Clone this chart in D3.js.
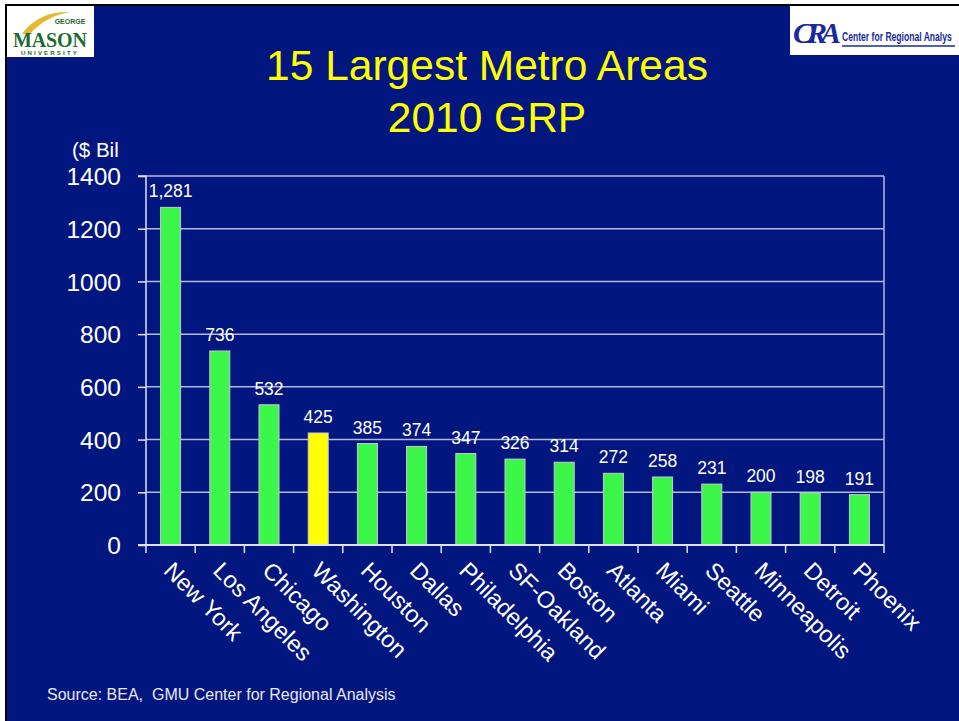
<!DOCTYPE html>
<html><head><meta charset="utf-8">
<script src="https://cdn.jsdelivr.net/npm/d3@7"></script>
<style>html,body{margin:0;padding:0;background:#fff;}svg{display:block;}</style>
</head><body>
<svg id="c" width="959" height="721"></svg>
<script>
const categories = ["New York","Los Angeles","Chicago","Washington","Houston","Dallas","Philadelphia","SF-Oakland","Boston","Atlanta","Miami","Seattle","Minneapolis","Detroit","Phoenix"];
const values = [1281,736,532,425,385,374,347,326,314,272,258,231,200,198,191];
const highlight = ["Washington"];
const yTicks = [0,200,400,600,800,1000,1200,1400];
const titleLines = ["15 Largest Metro Areas","2010 GRP"];

const svg = d3.select("#c");
const W = 959, H = 721;
const font = "Liberation Sans, Arial, sans-serif";
// background
svg.append("rect").attr("x",0).attr("y",0).attr("width",W).attr("height",H).attr("fill","#fff");
svg.append("rect").attr("x",5).attr("y",4).attr("width",W-5).attr("height",H-4).attr("fill","#000");
svg.append("rect").attr("x",7).attr("y",6).attr("width",W-7).attr("height",H-6).attr("fill","#021680");

// logos
svg.append("rect").attr("x",7).attr("y",6).attr("width",87).attr("height",51).attr("fill","#fff");
svg.append("path").attr("d","M22,34 C34,17 52,11 70,12 C54,15 40,22 30,34 Z").attr("fill","#e5b830");
svg.append("text").attr("x",70).attr("y",24).attr("text-anchor","middle").attr("font-family",font).attr("font-weight","bold").attr("font-size",7).attr("fill","#1d6b32").text("GEORGE");
svg.append("text").attr("x",50).attr("y",47).attr("text-anchor","middle").attr("font-family","Liberation Serif, serif").attr("font-weight","bold").attr("font-size",20).attr("textLength",74).attr("fill","#1d6b32").text("MASON");
svg.append("text").attr("x",50).attr("y",55).attr("text-anchor","middle").attr("font-family",font).attr("font-weight","bold").attr("font-size",6).attr("letter-spacing",2.2).attr("fill","#1d6b32").text("UNIVERSITY");
svg.append("rect").attr("x",790).attr("y",6).attr("width",169).attr("height",49).attr("fill","#fff");
svg.append("text").attr("x",793).attr("y",43).attr("font-family","Liberation Serif, serif").attr("font-weight","bold").attr("font-style","italic").attr("font-size",30).attr("textLength",48).attr("fill","#1a2a9c").text("CRA");
const cra = svg.append("text").attr("x",0).attr("y",0).attr("font-family","Liberation Sans Narrow, Arial Narrow, sans-serif").attr("font-weight","bold").attr("font-size",13).attr("fill","#1a2a9c").text("Center for Regional Analys");
const natW = cra.node().getComputedTextLength();
cra.attr("transform",`translate(842,41) scale(${110/natW},1)`);
svg.append("line").attr("x1",842).attr("x2",955).attr("y1",46).attr("y2",46).attr("stroke","#1a2a9c").attr("stroke-width",1.5);

// title
svg.selectAll("text.title").data(titleLines).enter().append("text")
  .attr("class","title").attr("x",487).attr("y",(d,i)=>80+i*52)
  .attr("text-anchor","middle").attr("font-family",font).attr("font-size",42.5)
  .attr("fill","#ffff00").text(d=>d);

// chart
const m = {l:146, r:884, t:176, b:545};
const xOuter = d3.scaleBand().domain(categories).range([m.l,m.r]);
const y = d3.scaleLinear().domain([0,1400]).range([m.b,m.t]);
const gridCol = "#b4b8dc";

svg.append("g").selectAll("line").data(yTicks.filter(d=>d>0)).enter().append("line")
  .attr("x1",m.l).attr("x2",m.r).attr("y1",d=>y(d)).attr("y2",d=>y(d))
  .attr("stroke",gridCol).attr("stroke-width",1.5);
svg.append("line").attr("x1",m.r).attr("x2",m.r).attr("y1",m.t).attr("y2",m.b).attr("stroke",gridCol).attr("stroke-width",1.5);

svg.append("g").selectAll("rect").data(categories).enter().append("rect")
  .attr("x",d=>xOuter(d)+xOuter.bandwidth()/2-10).attr("width",20)
  .attr("y",(d,i)=>y(values[i])).attr("height",(d,i)=>y(0)-y(values[i]))
  .attr("fill",d=>highlight.includes(d)?"#ffff00":"#3cf74a")
  .attr("stroke","#c8c8d8").attr("stroke-width",1);

// y axis
const yAxis = d3.axisLeft(y).tickValues(yTicks).tickSize(8).tickFormat(d3.format("d"));
const gy = svg.append("g").attr("transform",`translate(${m.l},0)`).call(yAxis);
gy.select(".domain").attr("stroke","#e0e0f0").attr("stroke-width",1.5).attr("d",`M-8,${m.t}H0V${m.b}`);
gy.selectAll(".tick line").attr("stroke","#e0e0f0").attr("stroke-width",1.5);
gy.selectAll(".tick text").attr("x",-25).attr("fill","#fff").attr("font-family",font).attr("font-size",24.5).attr("dy","0.35em");

// x axis
const gx = svg.append("g").attr("transform",`translate(0,${m.b})`);
gx.append("line").attr("x1",m.l-8).attr("x2",m.r).attr("stroke","#e0e0f0").attr("stroke-width",2);
gx.selectAll("line.tk").data(categories.concat(["_end"])).enter().append("line")
  .attr("x1",(d,i)=>m.l+i*xOuter.bandwidth()).attr("x2",(d,i)=>m.l+i*xOuter.bandwidth())
  .attr("y1",0).attr("y2",8).attr("stroke","#e0e0f0").attr("stroke-width",1.5);
gx.selectAll("text").data(categories).enter().append("text")
  .attr("transform",d=>`translate(${xOuter(d)+xOuter.bandwidth()/2-8},${27}) rotate(45)`)
  .attr("fill","#fff").attr("font-family",font).attr("font-size",23.5).text(d=>d);

// value labels
svg.append("g").selectAll("text").data(categories).enter().append("text")
  .attr("x",d=>xOuter(d)+xOuter.bandwidth()/2).attr("y",(d,i)=>y(values[i])-10)
  .attr("text-anchor","middle").attr("fill","#fff").attr("font-family",font).attr("font-size",17.5)
  .text((d,i)=>d3.format(",")(values[i]));

svg.append("text").attr("x",72).attr("y",157).attr("fill","#fff").attr("font-family",font).attr("font-size",20.5).text("($ Bil");
svg.append("text").attr("x",47).attr("y",700).attr("fill","#e8e8f0").attr("font-family",font).attr("font-size",16).style("white-space","pre").text("Source: BEA,  GMU Center for Regional Analysis");
</script>
</body></html>
